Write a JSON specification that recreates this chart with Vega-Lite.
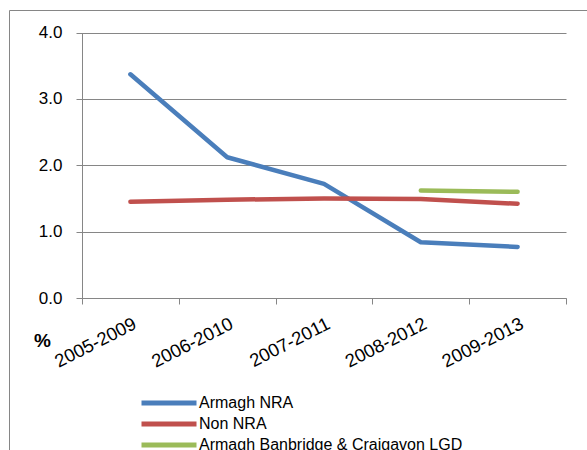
{
  "$schema": "https://vega.github.io/schema/vega-lite/v6.json",
  "autosize": {"type": "none"},
  "padding": {"left": 9, "top": 10, "right": -2, "bottom": -22},
  "width": 580,
  "height": 462,
  "background": "white",
  "title": {"text": "y", "anchor": "start", "frame": "group", "baseline": "alphabetic", "offset": 4, "dx": 88, "dy": 12, "color": "#7030A0", "fontSize": 26, "font": "Liberation Sans", "fontWeight": "normal"},
  "config": {
    "view": {"stroke": "#868686", "strokeWidth": 1},
    "font": "Liberation Sans"
  },
  "data": {
    "values": [
      {"series": "Armagh NRA", "period": "2005-2009", "value": 3.37},
      {"series": "Armagh NRA", "period": "2006-2010", "value": 2.12},
      {"series": "Armagh NRA", "period": "2007-2011", "value": 1.72},
      {"series": "Armagh NRA", "period": "2008-2012", "value": 0.84},
      {"series": "Armagh NRA", "period": "2009-2013", "value": 0.77},
      {"series": "Non NRA", "period": "2005-2009", "value": 1.45},
      {"series": "Non NRA", "period": "2006-2010", "value": 1.48},
      {"series": "Non NRA", "period": "2007-2011", "value": 1.5},
      {"series": "Non NRA", "period": "2008-2012", "value": 1.49},
      {"series": "Non NRA", "period": "2009-2013", "value": 1.42},
      {"series": "Armagh Banbridge & Craigavon LGD", "period": "2008-2012", "value": 1.62},
      {"series": "Armagh Banbridge & Craigavon LGD", "period": "2009-2013", "value": 1.6}
    ]
  },
  "mark": {"type": "line", "strokeWidth": 4.5, "strokeCap": "round", "strokeJoin": "round"},
  "encoding": {
    "x": {
      "field": "period", "type": "nominal",
      "scale": {"type": "band", "range": [73, 557], "paddingInner": 0, "paddingOuter": 0},
      "axis": {
        "title": null, "offset": -174, "labelAngle": -27, "labelFontSize": 18.5, "labelColor": "#000000",
        "labelPadding": 10, "tickBand": "extent", "tickSize": 6, "tickColor": "#868686",
        "domainColor": "#868686", "grid": false, "labelAlign": "right", "labelBaseline": "top"
      }
    },
    "y": {
      "field": "value", "type": "quantitative",
      "scale": {"domain": [0, 4], "range": [288, 22.5], "nice": false, "zero": true},
      "axis": {
        "title": "%", "titleAngle": 0, "titleX": -40, "titleY": 336, "titleAlign": "center", "titleBaseline": "alphabetic",
        "titleFontSize": 19, "titleFontWeight": "bold", "titleColor": "#000000",
        "offset": -73, "values": [0, 1, 2, 3, 4], "format": ".1f", "labelFontSize": 17, "labelColor": "#000000",
        "labelPadding": 14, "tickSize": 6, "tickColor": "#868686", "domainColor": "#868686",
        "grid": true, "gridColor": "#868686", "gridOpacity": 1
      }
    },
    "color": {
      "field": "series", "type": "nominal",
      "scale": {"domain": ["Armagh NRA", "Non NRA", "Armagh Banbridge & Craigavon LGD"], "range": ["#4A7EBB", "#C0504D", "#9BBB59"]},
      "legend": {
        "title": null, "orient": "none", "legendX": 152, "legendY": 385,
        "symbolType": "M-5,0H5", "symbolSize": 121, "symbolStrokeWidth": 5,
        "labelFontSize": 16, "labelColor": "#000000", "labelOffset": 22, "labelLimit": 0, "padding": 0, "rowPadding": 1
      }
    }
  }
}
